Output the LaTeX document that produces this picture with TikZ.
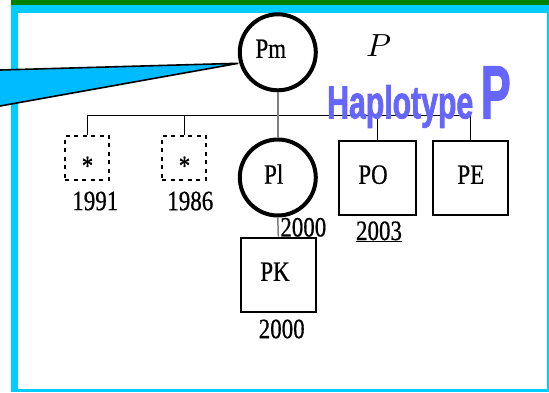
\documentclass[tikz,border=0pt]{standalone}
\usepackage{fontspec}
\setmainfont{Liberation Serif}[FakeStretch=0.82,FakeBold=0.6]
\newfontfamily\hapfont{Liberation Sans}[FakeBold=2]
\usepackage{graphicx}
\definecolor{framecyan}{HTML}{00CCFF}
\definecolor{framegreen}{HTML}{008000}
\definecolor{callout}{HTML}{00BBFF}
\definecolor{haplo}{HTML}{6666FF}
\tikzset{
  lbl/.style={inner sep=0pt, font=\fontsize{28}{30}\selectfont},
  ring/.style={circle, draw=black, fill=white, line width=4pt, minimum size=76pt, inner sep=0pt},
  sqbox/.style={rectangle, draw=black, fill=white, line width=2pt, inner sep=0pt},
  dashbox/.style={rectangle, draw=black, fill=white, line width=2pt, dash pattern=on 4pt off 4.5pt, minimum width=44pt, minimum height=44pt, inner sep=0pt},
  link/.style={draw=black, line width=1pt},
  glink/.style={draw=gray, line width=1.5pt}
}
\begin{document}
\begin{tikzpicture}[x=1pt,y=-1pt]
\useasboundingbox (0,0) rectangle (549,392);
% frame
\fill[framecyan] (10.7,4.7) rectangle (549,392);
\fill[white] (18.3,12.7) rectangle (546.7,388.7);
\fill[framegreen] (10.7,0) rectangle (549,4.7);
% callout
\coordinate (ctop) at (0,70);
\coordinate (cbot) at (0,106);
\coordinate (tip) at (238.3,63.3);
\filldraw[fill=callout, draw=black, line width=1.6pt, line join=miter] (ctop) -- (tip) -- (cbot);
% shapes
\node[ring] (pm) at (277.8,52.3) {};
\node[ring] (pl) at (277.8,177.5) {};
\node[dashbox] (b1) at (87,157.5) {};
\node[dashbox] (b2) at (184,157.5) {};
\node[sqbox, minimum width=77pt, minimum height=74pt] (po) at (377,177.5) {};
\node[sqbox, minimum width=75pt, minimum height=74pt] (pe) at (470.5,177.5) {};
\node[sqbox, minimum width=75pt, minimum height=74pt] (pk) at (278.3,274.7) {};
% connectors
\coordinate (bar) at (0,115.7);
\draw[link] (b1.north) -- (b1.north |- bar) -- (pe.north |- bar) -- (pe.north);
\draw[link] (b2.north) -- (b2.north |- bar);
\draw[link] (po.north) -- (po.north |- bar);
\draw[glink] (pm.south) -- (pl.north);
\draw[glink] (pl.south) -- (pk.north);
% texts in shapes
\node[lbl] (pmtxt) at (270.8,48.7) {Pm};
\node[lbl] (pltxt) at (273.7,174) {Pl};
\node[lbl] (potxt) at (373,174.7) {PO};
\node[lbl] (petxt) at (470.8,174.7) {PE};
\node[lbl] (pktxt) at (275,271.7) {PK};
\node[lbl, anchor=base] (s1) at (87.5,175) {*};
\node[lbl, anchor=base] (s2) at (184.5,175) {*};
% years
\node[lbl] (y1) at (95.3,201) {1991};
\node[lbl] (y2) at (190.3,201) {1986};
\node[lbl] (y3) at (303.3,227.3) {2000};
\node[lbl, anchor=base] (y4) at (379,240) {\underline{2003}};
\node[lbl] (y5) at (281.7,329) {2000};
% P and Haplotype
\node[inner sep=0pt] (pit) at (378.7,45.8) {\scalebox{3.2}{$P$}};
\node[inner sep=0pt, anchor=base west, text=haplo] (hap) at (327,118.3) {\resizebox{146pt}{33.3pt}{\hapfont\bfseries Haplotype}};
\node[inner sep=0pt, anchor=base west, text=haplo] (hapP) at (480.5,118.3) {\resizebox{30pt}{51.6pt}{\hapfont\bfseries P}};
\end{tikzpicture}
\end{document}
